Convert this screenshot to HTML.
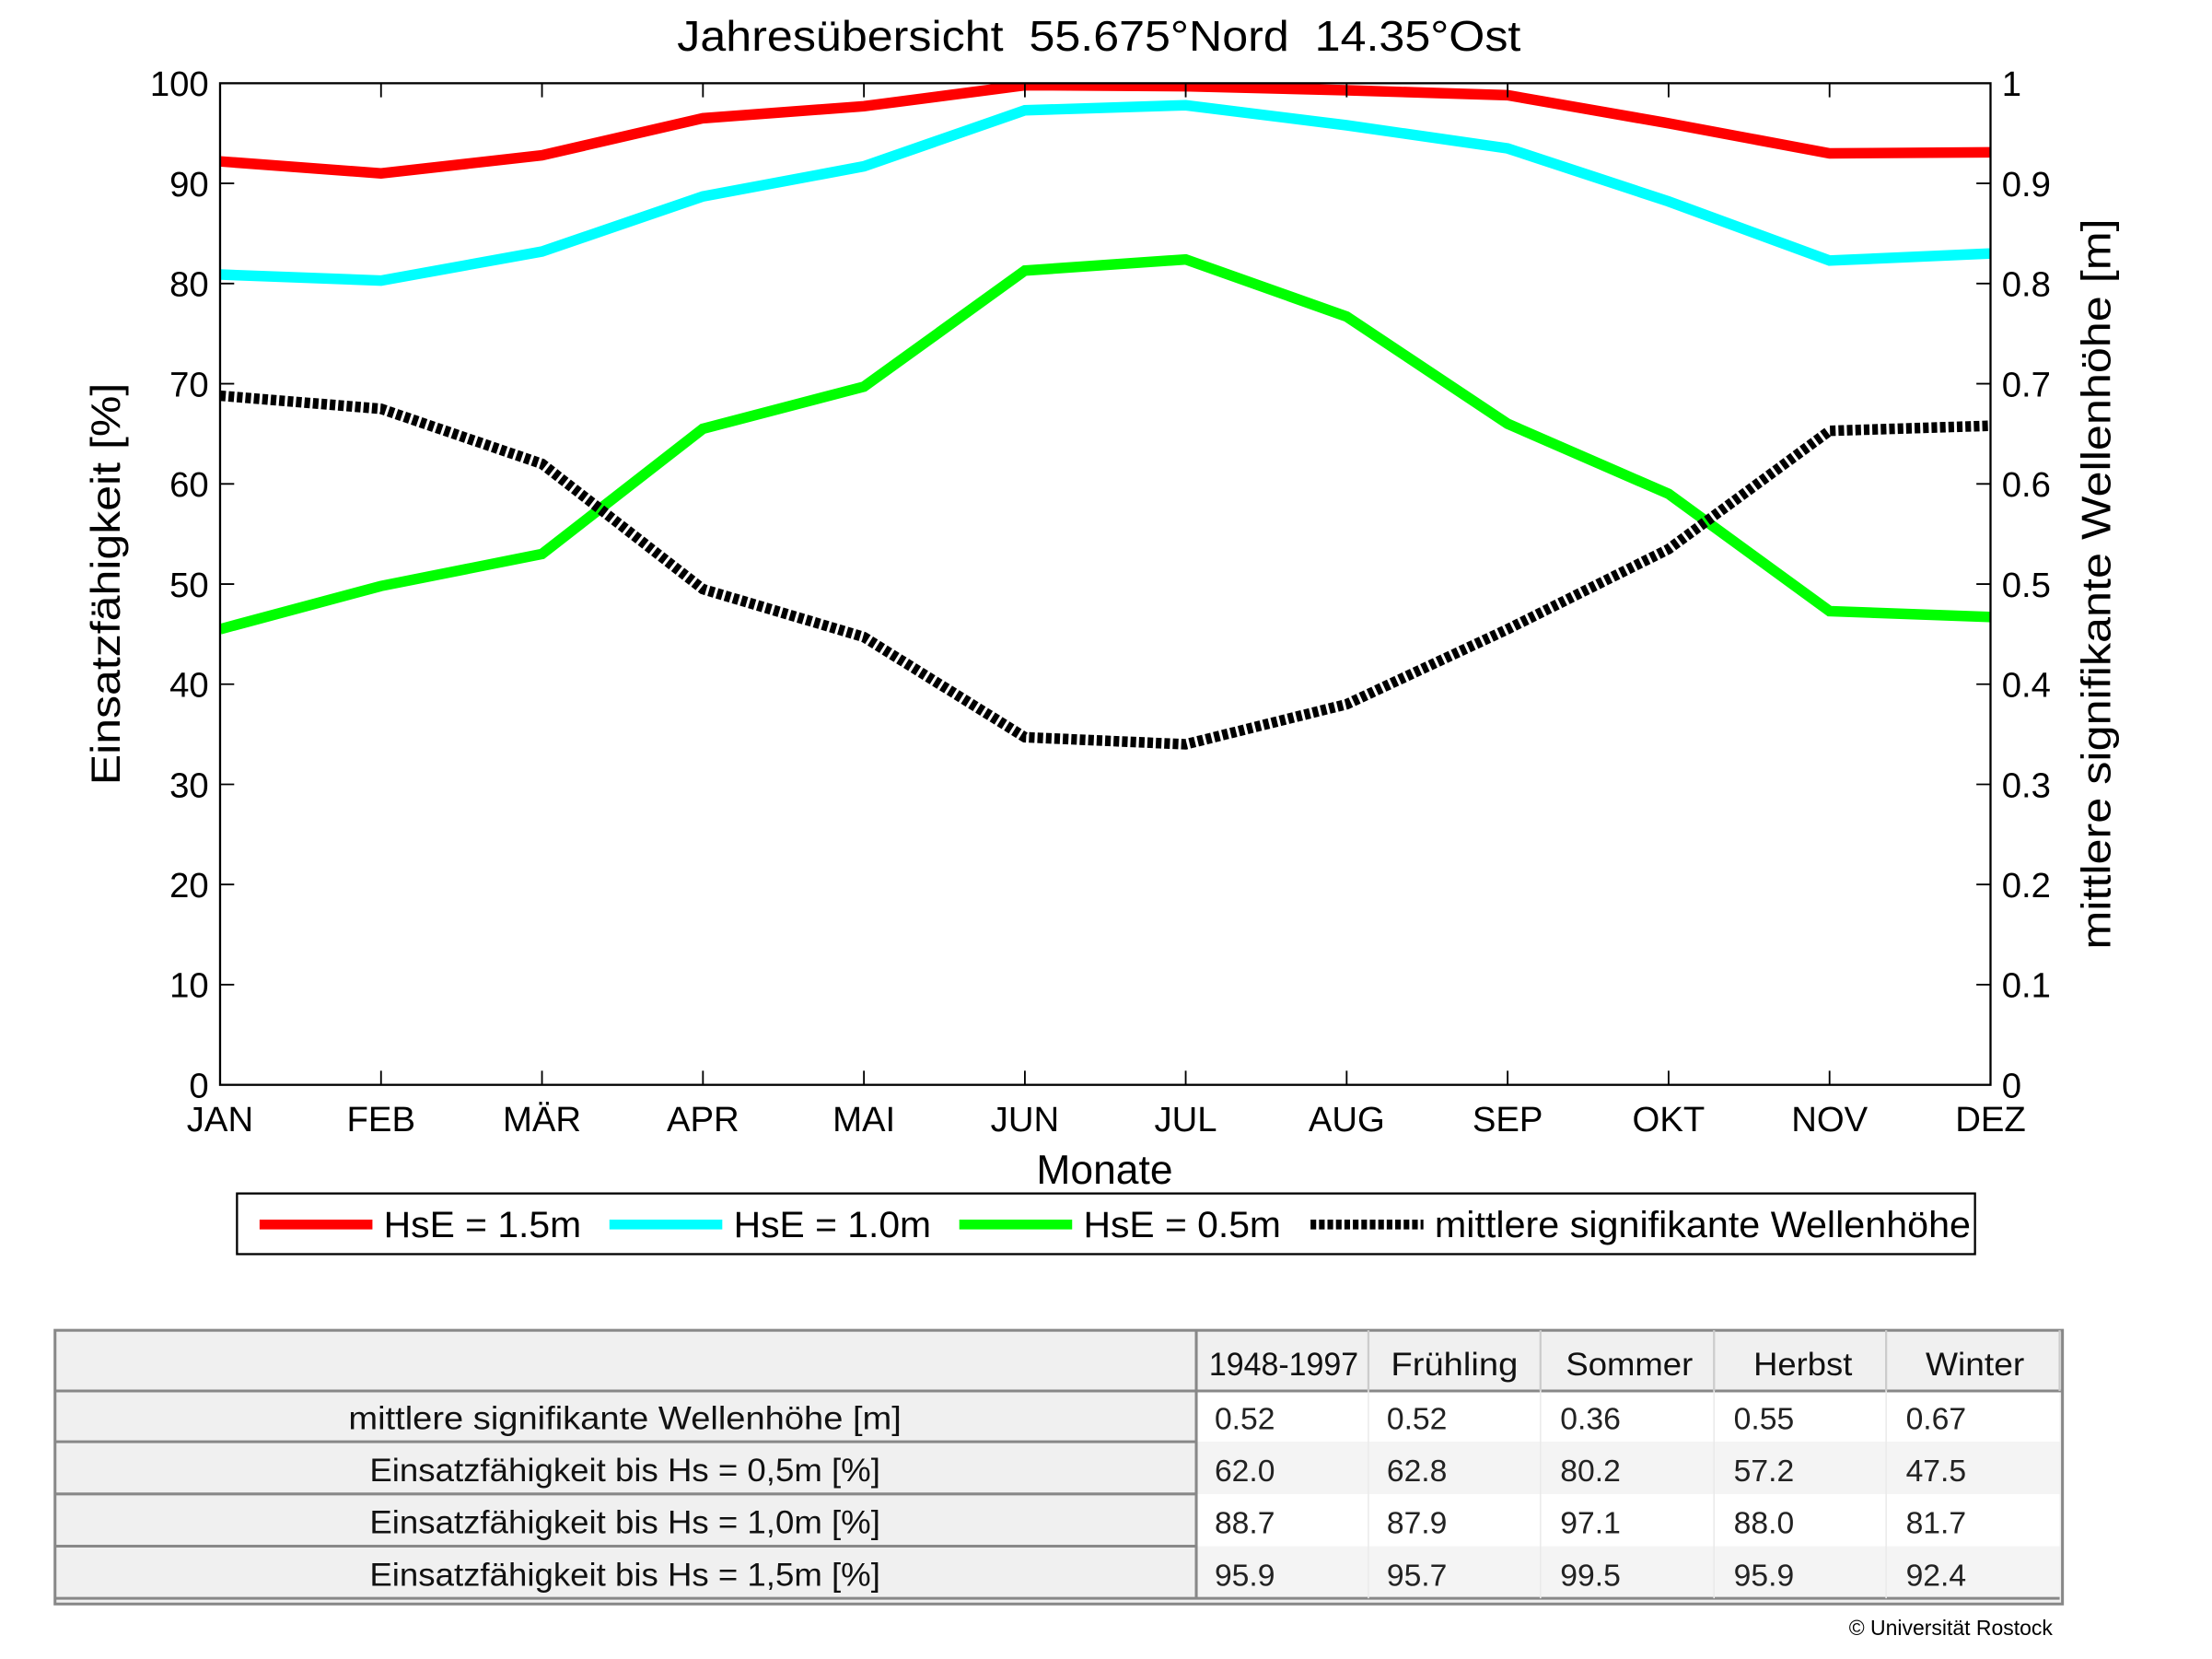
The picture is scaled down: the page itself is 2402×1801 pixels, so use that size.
<!DOCTYPE html>
<html><head><meta charset="utf-8"><style>html,body{margin:0;padding:0;background:#fff}svg{display:block}</style></head>
<body>
<svg width="2402" height="1801" viewBox="0 0 1568 1176" preserveAspectRatio="none" xmlns="http://www.w3.org/2000/svg" font-family="'Liberation Sans', sans-serif">
<rect width="1568" height="1176" fill="#fff"/>
<text x="779" y="36" font-size="30" text-anchor="middle" textLength="598" lengthAdjust="spacingAndGlyphs" xml:space="preserve">Jahresübersicht  55.675°Nord  14.35°Ost</text>
<defs><clipPath id="c"><rect x="156" y="59" width="1255" height="710"/></clipPath></defs>
<g clip-path="url(#c)" fill="none" stroke-width="7.5" stroke-linejoin="miter">
<polyline stroke="#ff0000" points="156,114.4 270.1,122.9 384.2,110.1 498.3,83.8 612.4,75.3 726.5,60.4 840.5,61.1 954.6,64 1068.7,67.5 1182.8,87.4 1296.9,108.7 1411,108"/>
<polyline stroke="#00ffff" points="156,194.6 270.1,198.9 384.2,178.3 498.3,139.2 612.4,117.9 726.5,78.2 840.5,74.6 954.6,88.8 1068.7,105.2 1182.8,142.8 1296.9,184.7 1411,179.7"/>
<polyline stroke="#00ff00" points="156,446 270.1,415.4 384.2,392.7 498.3,303.9 612.4,274.1 726.5,191.8 840.5,183.9 954.6,224.4 1068.7,300.4 1182.8,350.1 1296.9,433.2 1411,437.4"/>
<polyline stroke="#000" stroke-dasharray="4,2" points="156,280.5 270.1,289.8 384.2,328.8 498.3,417.6 612.4,451.6 726.5,522.6 840.5,527.6 954.6,499.2 1068.7,446 1182.8,389.2 1296.9,305.4 1411,301.8"/>
</g>
<rect x="156" y="59" width="1255" height="710" fill="none" stroke="#000" stroke-width="1.5"/>
<g stroke="#000" stroke-width="1.2">
<path d="M270.1,769v-10M384.2,769v-10M498.3,769v-10M612.4,769v-10M726.5,769v-10M840.5,769v-10M954.6,769v-10M1068.7,769v-10M1182.8,769v-10M1296.9,769v-10
M270.1,59v10M384.2,59v10M498.3,59v10M612.4,59v10M726.5,59v10M840.5,59v10M954.6,59v10M1068.7,59v10M1182.8,59v10M1296.9,59v10
M156,698h10M156,627h10M156,556h10M156,485h10M156,414h10M156,343h10M156,272h10M156,201h10M156,130h10
M1411,698h-10M1411,627h-10M1411,556h-10M1411,485h-10M1411,414h-10M1411,343h-10M1411,272h-10M1411,201h-10M1411,130h-10"/>
</g>
<g font-size="25" text-anchor="end">
<text x="148" y="778">0</text><text x="148" y="707">10</text><text x="148" y="636">20</text><text x="148" y="565">30</text><text x="148" y="494">40</text><text x="148" y="423">50</text><text x="148" y="352">60</text><text x="148" y="281">70</text><text x="148" y="210">80</text><text x="148" y="139">90</text><text x="148" y="68">100</text>
</g>
<g font-size="25">
<text x="1419" y="778">0</text><text x="1419" y="707">0.1</text><text x="1419" y="636">0.2</text><text x="1419" y="565">0.3</text><text x="1419" y="494">0.4</text><text x="1419" y="423">0.5</text><text x="1419" y="352">0.6</text><text x="1419" y="281">0.7</text><text x="1419" y="210">0.8</text><text x="1419" y="139">0.9</text><text x="1419" y="68">1</text>
</g>
<g font-size="25" text-anchor="middle">
<text x="156" y="802">JAN</text><text x="270.1" y="802">FEB</text><text x="384.2" y="802">MÄR</text><text x="498.3" y="802">APR</text><text x="612.4" y="802">MAI</text><text x="726.5" y="802">JUN</text><text x="840.5" y="802">JUL</text><text x="954.6" y="802">AUG</text><text x="1068.7" y="802">SEP</text><text x="1182.8" y="802">OKT</text><text x="1296.9" y="802">NOV</text><text x="1411" y="802">DEZ</text>
<text x="783" y="839" font-size="29">Monate</text>
</g>
<text transform="translate(85,414) rotate(-90)" font-size="29" text-anchor="middle" textLength="285" lengthAdjust="spacingAndGlyphs">Einsatzfähigkeit [%]</text>
<text transform="translate(1496,414) rotate(-90)" font-size="29" text-anchor="middle" textLength="518" lengthAdjust="spacingAndGlyphs">mittlere signifikante Wellenhöhe [m]</text>
<rect x="168" y="846" width="1232" height="43" fill="#fff" stroke="#000" stroke-width="1.5"/>
<g stroke-width="7">
<path d="M184,868h80" stroke="#ff0000"/><path d="M432,868h80" stroke="#00ffff"/><path d="M680,868h80" stroke="#00ff00"/><path d="M929,868h80" stroke="#000" stroke-dasharray="4,2"/>
</g>
<g font-size="26">
<text x="272" y="877" textLength="140" lengthAdjust="spacingAndGlyphs">HsE = 1.5m</text><text x="520" y="877" textLength="140" lengthAdjust="spacingAndGlyphs">HsE = 1.0m</text><text x="768" y="877" textLength="140" lengthAdjust="spacingAndGlyphs">HsE = 0.5m</text><text x="1017" y="877" textLength="380" lengthAdjust="spacingAndGlyphs">mittlere signifikante Wellenhöhe</text>
</g>
<!-- table -->
<rect x="39" y="943" width="1423" height="194" fill="#f0f0f0" stroke="#888" stroke-width="2"/>
<rect x="848" y="986" width="612" height="36" fill="#fff"/>
<rect x="848" y="1059" width="612" height="37" fill="#fff"/>
<rect x="848" y="1022" width="612" height="37" fill="#f4f4f4"/>
<rect x="848" y="1096" width="612" height="37" fill="#f4f4f4"/>
<g stroke="#888" stroke-width="2" fill="none">
<path d="M39,986h1423M39,1022h809M39,1059h809M39,1096h809M39,1133h809M848,943v190M848,1133h612"/>
</g>
<g stroke="#ccc" stroke-width="1.5"><path d="M970,943v43M1092,943v43M1215,943v43M1337,943v43M1460,943v43"/></g>
<g stroke="#eaeaea" stroke-width="1"><path d="M970,986v147M1092,986v147M1215,986v147M1337,986v147"/></g>
<g font-size="23" fill="#111" text-anchor="middle">
<text x="443" y="1013" textLength="392" lengthAdjust="spacingAndGlyphs">mittlere signifikante Wellenhöhe [m]</text>
<text x="443" y="1050" textLength="362" lengthAdjust="spacingAndGlyphs">Einsatzfähigkeit bis Hs = 0,5m [%]</text>
<text x="443" y="1087" textLength="362" lengthAdjust="spacingAndGlyphs">Einsatzfähigkeit bis Hs = 1,0m [%]</text>
<text x="443" y="1124" textLength="362" lengthAdjust="spacingAndGlyphs">Einsatzfähigkeit bis Hs = 1,5m [%]</text>
<text x="910" y="975" textLength="106" lengthAdjust="spacingAndGlyphs">1948-1997</text>
<text x="1031" y="975" textLength="90" lengthAdjust="spacingAndGlyphs">Frühling</text>
<text x="1155" y="975" textLength="90" lengthAdjust="spacingAndGlyphs">Sommer</text>
<text x="1278" y="975" textLength="70" lengthAdjust="spacingAndGlyphs">Herbst</text>
<text x="1400" y="975" textLength="70" lengthAdjust="spacingAndGlyphs">Winter</text>
</g>
<g font-size="22" fill="#222">
<text x="861" y="1013">0.52</text><text x="983" y="1013">0.52</text><text x="1106" y="1013">0.36</text><text x="1229" y="1013">0.55</text><text x="1351" y="1013">0.67</text>
<text x="861" y="1050">62.0</text><text x="983" y="1050">62.8</text><text x="1106" y="1050">80.2</text><text x="1229" y="1050">57.2</text><text x="1351" y="1050">47.5</text>
<text x="861" y="1087">88.7</text><text x="983" y="1087">87.9</text><text x="1106" y="1087">97.1</text><text x="1229" y="1087">88.0</text><text x="1351" y="1087">81.7</text>
<text x="861" y="1124">95.9</text><text x="983" y="1124">95.7</text><text x="1106" y="1124">99.5</text><text x="1229" y="1124">95.9</text><text x="1351" y="1124">92.4</text>
</g>
<text x="1455" y="1159" font-size="15" text-anchor="end">© Universität Rostock</text>
</svg>
</body></html>
